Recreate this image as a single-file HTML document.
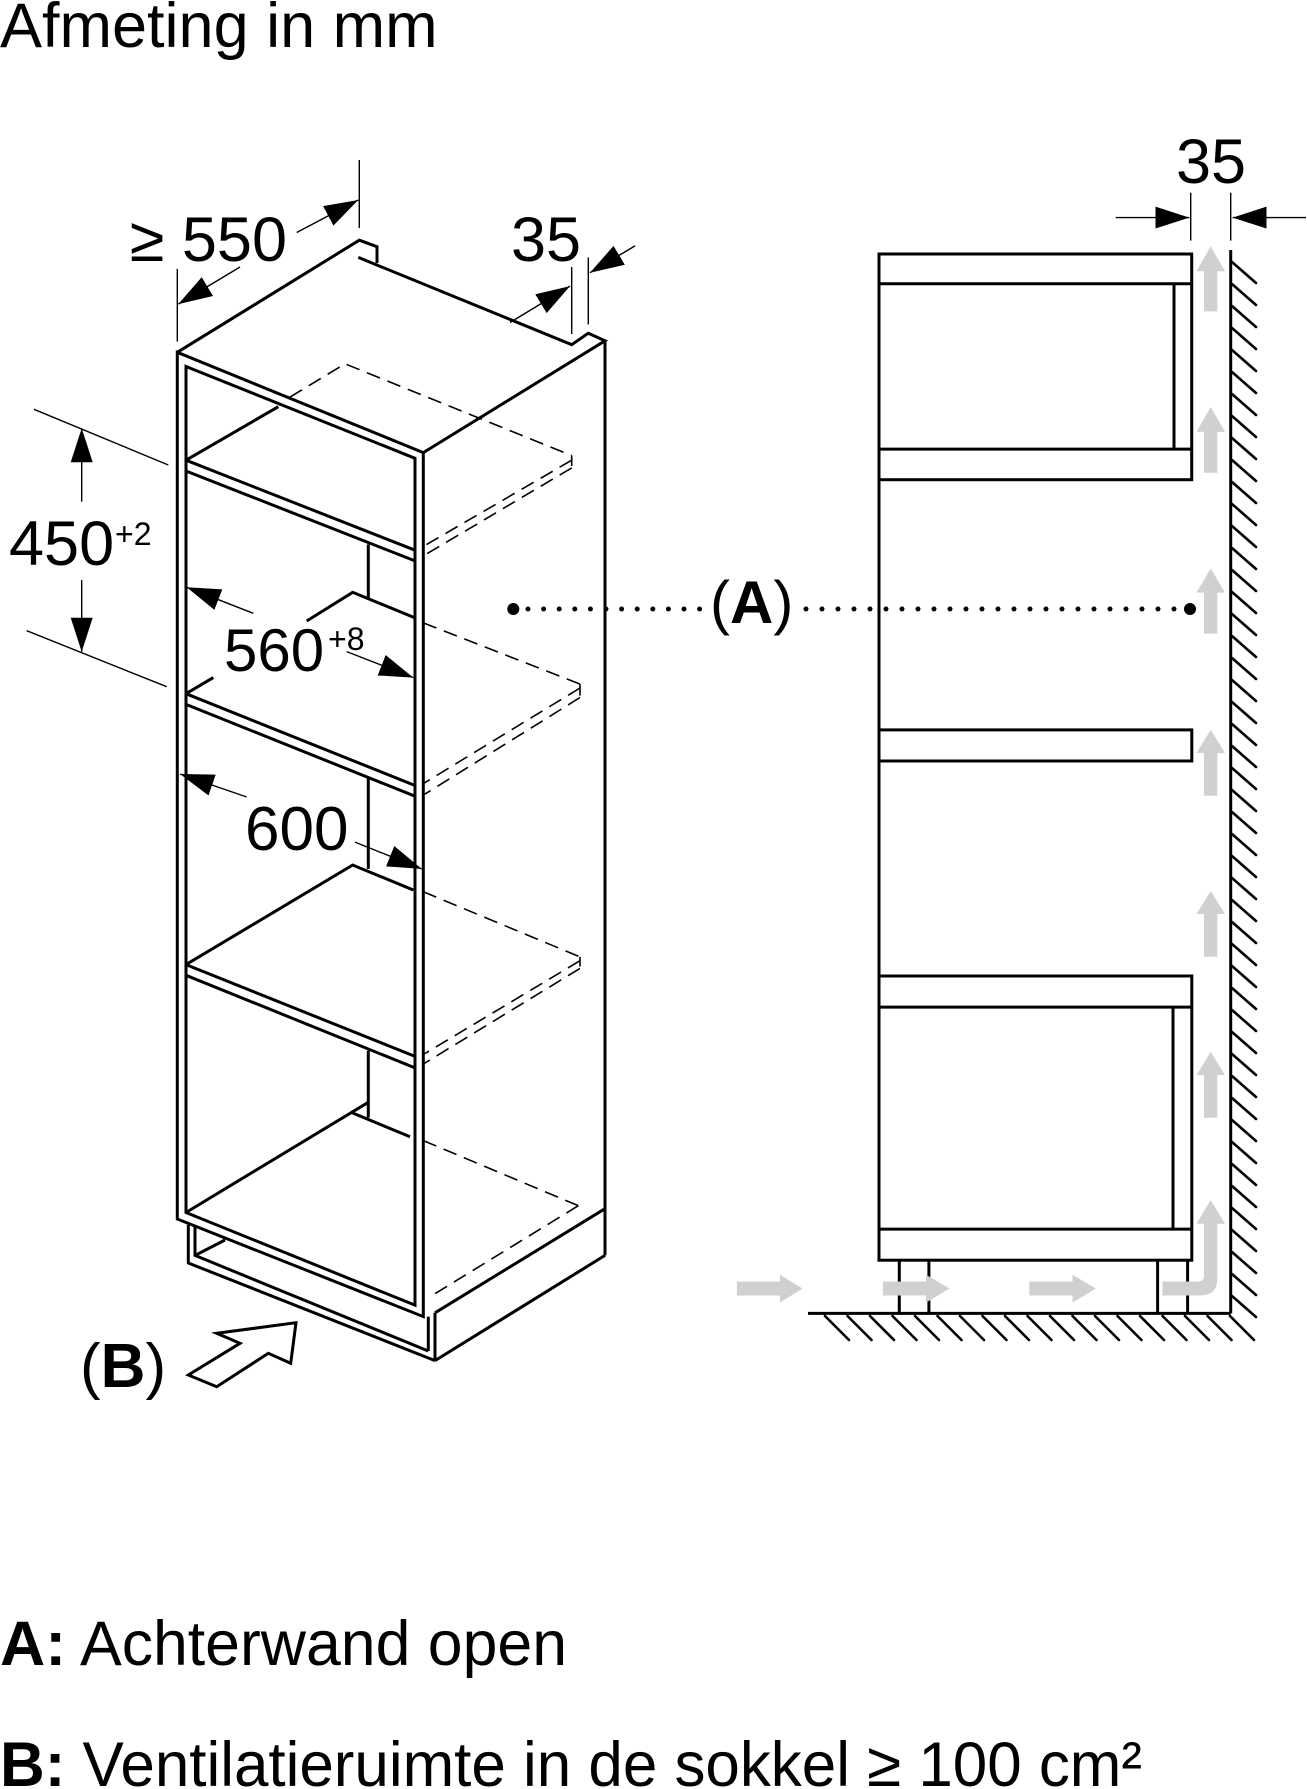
<!DOCTYPE html>
<html><head><meta charset="utf-8"><style>
html,body{margin:0;padding:0;background:#fff;}
svg{display:block;}
text{font-family:"Liberation Sans",Arial,sans-serif;fill:#000;}
</style></head><body>
<svg width="1307" height="1789" viewBox="0 0 1307 1789" xmlns="http://www.w3.org/2000/svg">
<defs>
<marker id="ah" markerUnits="userSpaceOnUse" markerWidth="40" markerHeight="30" refX="34" refY="11" orient="auto">
<path d="M0,0 L34,11 L0,22 Z" fill="#000"/>
</marker>
</defs>

<!-- Title -->
<text x="0" y="47" font-size="63">Afmeting in mm</text>

<!-- ========== LEFT CABINET ========== -->
<g fill="none" stroke="#000" stroke-width="3" stroke-linejoin="miter">
<!-- top face -->
<polyline points="177.3,352.3 359.3,240.2 377,246.7 377,263"/>
<polyline points="358.3,257.4 571.7,344.7 588.3,333.2 605,340.8 423.3,452.6"/>
<!-- right side -->
<line x1="605" y1="340.8" x2="605" y2="1255.4"/>
<line x1="605" y1="1208.7" x2="435" y2="1312.8"/>
<line x1="605" y1="1255.4" x2="435" y2="1360.6"/>
<line x1="435" y1="1312.8" x2="435" y2="1360.6"/>
<line x1="428.3" y1="1316.6" x2="428.3" y2="1351"/>
<!-- front frame outer / inner -->
<polygon points="177.3,352.3 423.3,452.6 423.3,1316.6 177.3,1219"/>
<polygon points="186,366.5 415,458.3 415,1305.2 186,1212.5"/>
<!-- plinth -->
<polyline points="188.3,1224.8 188.3,1263 435,1360.6"/>
<polyline points="195,1226.7 195,1255.4 428.3,1351"/>
<line x1="195" y1="1255.4" x2="225" y2="1240"/>
<!-- shelf 1 -->
<line x1="186" y1="460.2" x2="415" y2="550.2"/>
<line x1="186" y1="471" x2="415" y2="560.9"/>
<line x1="186" y1="460.2" x2="278.3" y2="406.7"/>
<!-- post 1 -->
<line x1="368.3" y1="544.4" x2="368.3" y2="598"/>
<!-- shelf 2 -->
<line x1="186" y1="693.7" x2="415" y2="785.5"/>
<line x1="186" y1="704.4" x2="415" y2="796.2"/>
<line x1="186" y1="693.7" x2="213.3" y2="677.6"/>
<polyline points="306.7,621 352.7,592.3 415,617.9"/>
<!-- post 2 -->
<line x1="368.3" y1="777.9" x2="368.3" y2="868.9"/>
<!-- shelf 3 -->
<line x1="186" y1="964.6" x2="415" y2="1056.4"/>
<line x1="186" y1="975.3" x2="415" y2="1067.9"/>
<polyline points="186,964.6 352.7,865 413.3,890"/>
<!-- post 3 -->
<line x1="368.3" y1="1050.7" x2="368.3" y2="1117.6"/>
<!-- bottom -->
<line x1="186" y1="1212.5" x2="368.3" y2="1102.3"/>
<line x1="352.7" y1="1113" x2="410" y2="1136.8"/>
</g>

<!-- dashed hidden lines -->
<g fill="none" stroke="#000" stroke-width="1.6" stroke-dasharray="14 8">
<polyline points="290,397.1 345,363.8 571.7,455.6"/>
<line x1="571.7" y1="460.2" x2="423.3" y2="546.4"/>
<line x1="571.7" y1="467.9" x2="423.3" y2="555.9"/>
<line x1="423.3" y1="622.9" x2="580" y2="684.1"/>
<line x1="580" y1="688" x2="423.3" y2="783.6"/>
<line x1="580" y1="697.5" x2="423.3" y2="795.1"/>
<line x1="423.3" y1="891.8" x2="580" y2="956.9"/>
<line x1="580" y1="960.7" x2="423.3" y2="1054.5"/>
<line x1="580" y1="968.4" x2="423.3" y2="1064"/>
<line x1="423.3" y1="1140.6" x2="578.3" y2="1205.7"/>
<line x1="578.3" y1="1205.7" x2="435" y2="1293.7"/>
</g>
<g fill="none" stroke="#000" stroke-width="1.6">
<line x1="571.7" y1="455.6" x2="571.7" y2="466"/>
<line x1="580" y1="684.1" x2="580" y2="695.6"/>
<line x1="580" y1="956.9" x2="580" y2="966.5"/>
</g>

<!-- dimension lines -->
<g fill="none" stroke="#000" stroke-width="1.4">
<!-- 550 -->
<line x1="177.3" y1="268.9" x2="177.3" y2="341.6"/>
<line x1="359.3" y1="160" x2="359.3" y2="228"/>
<line x1="240" y1="267" x2="178.3" y2="304.1" marker-end="url(#ah)"/>
<line x1="296.7" y1="232.5" x2="358.3" y2="200" marker-end="url(#ah)"/>
<!-- 35 left -->
<line x1="571.7" y1="267" x2="571.7" y2="334"/>
<line x1="588.3" y1="257.4" x2="588.3" y2="324.4"/>
<line x1="510" y1="322.5" x2="570" y2="286.1" marker-end="url(#ah)"/>
<line x1="635" y1="245.9" x2="590" y2="272.7" marker-end="url(#ah)"/>
<!-- 450 -->
<line x1="34" y1="409.3" x2="168.3" y2="465"/>
<line x1="26.7" y1="630.7" x2="166.7" y2="686.7"/>
<line x1="81.7" y1="501.7" x2="81.7" y2="428.3" marker-end="url(#ah)"/>
<line x1="81.7" y1="580" x2="81.7" y2="651.7" marker-end="url(#ah)"/>
<!-- 560 -->
<line x1="253.3" y1="613.3" x2="186.7" y2="587.3" marker-end="url(#ah)"/>
<line x1="346.7" y1="651.6" x2="413.3" y2="677.6" marker-end="url(#ah)"/>
<!-- 600 -->
<line x1="246.7" y1="797" x2="180" y2="774" marker-end="url(#ah)"/>
<line x1="355" y1="842.1" x2="421.7" y2="868.9" marker-end="url(#ah)"/>
<!-- 35 right -->
<line x1="1190.7" y1="192.7" x2="1190.7" y2="240.6"/>
<line x1="1230.7" y1="192.7" x2="1230.7" y2="240.6"/>
<line x1="1115.7" y1="217.6" x2="1189.3" y2="217.6" marker-end="url(#ah)"/>
<line x1="1306" y1="217.6" x2="1232.7" y2="217.6" marker-end="url(#ah)"/>
</g>

<!-- dimension texts -->
<text x="287" y="261" font-size="63" text-anchor="end">≥ 550</text>
<text x="511" y="261" font-size="63">35</text>
<text x="9" y="565" font-size="63">450</text>
<text x="115" y="545" font-size="32">+2</text>
<text x="224" y="671" font-size="60">560</text>
<text x="328" y="650" font-size="32">+8</text>
<text x="245" y="850" font-size="62">600</text>
<text x="1176" y="183" font-size="63">35</text>

<!-- B arrow -->
<polygon points="188.3,1375 240,1343.3 216.7,1333.3 296,1322.7 290.7,1363.3 268.3,1353.3 216.7,1386.7" fill="#fff" stroke="#000" stroke-width="3" stroke-linejoin="miter"/>
<text x="80" y="1387" font-size="62">(<tspan font-weight="bold">B</tspan>)</text>

<!-- (A) dotted line -->
<g fill="#000">
<circle cx="513.3" cy="609" r="6"/>
<circle cx="1190" cy="609" r="6"/>
</g>
<line x1="528" y1="609" x2="706" y2="609" stroke="#000" stroke-width="5" stroke-linecap="round" stroke-dasharray="0 15.6"/>
<line x1="806" y1="609" x2="1178" y2="609" stroke="#000" stroke-width="5" stroke-linecap="round" stroke-dasharray="0 16"/>
<text x="710" y="623" font-size="60">(<tspan font-weight="bold">A</tspan>)</text>

<!-- ========== RIGHT SIDE VIEW ========== -->
<g fill="none" stroke="#000" stroke-width="3">
<line x1="879" y1="254" x2="879" y2="1260.2"/>
<rect x="879" y="254" width="312.7" height="225.7"/>
<line x1="879" y1="283.8" x2="1191.7" y2="283.8"/>
<line x1="879" y1="449.1" x2="1191.7" y2="449.1"/>
<line x1="1174" y1="283.8" x2="1174" y2="449.1"/>
<rect x="879" y="729.9" width="312.8" height="31.1"/>
<rect x="879" y="976" width="312.8" height="284.2"/>
<line x1="879" y1="1007.1" x2="1191.8" y2="1007.1"/>
<line x1="879" y1="1229.1" x2="1191.8" y2="1229.1"/>
<line x1="1173" y1="1007.1" x2="1173" y2="1229.1"/>
<line x1="899.3" y1="1260.2" x2="899.3" y2="1313.4"/>
<line x1="928.9" y1="1260.2" x2="928.9" y2="1313.4"/>
<line x1="1157.6" y1="1260.2" x2="1157.6" y2="1313.4"/>
<line x1="1187.6" y1="1260.2" x2="1187.6" y2="1313.4"/>
<!-- wall & floor -->
<line x1="1230.7" y1="250" x2="1230.7" y2="1313.4"/>
<line x1="808" y1="1313.4" x2="1230.7" y2="1313.4"/>
</g>
<g stroke="#000" stroke-width="2.6" stroke-linecap="round">
<path d="M1232,262 l24,21 M1232,284 l24,21 M1232,306 l24,21 M1232,328 l24,21 M1232,350 l24,21 M1232,372 l24,21 M1232,394 l24,21 M1232,416 l24,21 M1232,438 l24,21 M1232,460 l24,21 M1232,482 l24,21 M1232,504 l24,21 M1232,526 l24,21 M1232,548 l24,21 M1232,570 l24,21 M1232,592 l24,21 M1232,614 l24,21 M1232,636 l24,21 M1232,658 l24,21 M1232,680 l24,21 M1232,702 l24,21 M1232,724 l24,21 M1232,746 l24,21 M1232,768 l24,21 M1232,790 l24,21 M1232,812 l24,21 M1232,834 l24,21 M1232,856 l24,21 M1232,878 l24,21 M1232,900 l24,21 M1232,922 l24,21 M1232,944 l24,21 M1232,966 l24,21 M1232,988 l24,21 M1232,1010 l24,21 M1232,1032 l24,21 M1232,1054 l24,21 M1232,1076 l24,21 M1232,1098 l24,21 M1232,1120 l24,21 M1232,1142 l24,21 M1232,1164 l24,21 M1232,1186 l24,21 M1232,1208 l24,21 M1232,1230 l24,21 M1232,1252 l24,21 M1232,1274 l24,21 M1232,1296 l24,21"/>
<path d="M825,1316 l24,24 M847.5,1316 l24,24 M870,1316 l24,24 M892.5,1316 l24,24 M915,1316 l24,24 M937.5,1316 l24,24 M960,1316 l24,24 M982.5,1316 l24,24 M1005,1316 l24,24 M1027.5,1316 l24,24 M1050,1316 l24,24 M1072.5,1316 l24,24 M1095,1316 l24,24 M1117.5,1316 l24,24 M1140,1316 l24,24 M1162.5,1316 l24,24 M1185,1316 l24,24 M1207.5,1316 l24,24 M1230,1316 l24,24"/>
</g>

<!-- gray airflow arrows -->
<g fill="#d0d0d0">
<path d="M1210.7,246.3 L1225,271.2 L1217.3,271.2 L1217.3,311.4 L1204,311.4 L1204,271.2 L1196.5,271.2 Z"/>
<path d="M1210.7,407 L1225,431.9 L1217.3,431.9 L1217.3,472.8 L1204,472.8 L1204,431.9 L1196.5,431.9 Z"/>
<path d="M1210.7,568.5 L1225,592.6 L1217.3,592.6 L1217.3,633.6 L1204,633.6 L1204,592.6 L1196.5,592.6 Z"/>
<path d="M1210.7,729.9 L1225,753 L1217.3,753 L1217.3,795.8 L1204,795.8 L1204,753 L1196.5,753 Z"/>
<path d="M1210.7,890.9 L1225,914 L1217.3,914 L1217.3,956.8 L1204,956.8 L1204,914 L1196.5,914 Z"/>
<path d="M1210.7,1051.9 L1225,1075 L1217.3,1075 L1217.3,1117.8 L1204,1117.8 L1204,1075 L1196.5,1075 Z"/>
<path d="M1210.7,1200 L1225,1223.7 L1217.3,1223.7 L1217.3,1279 Q1217.3,1295.5 1200,1295.5 L1162.5,1295.5 L1162.5,1281.5 L1198,1281.5 Q1204,1281.5 1204,1275 L1204,1223.7 L1196.5,1223.7 Z"/>
<path d="M736.9,1281.5 L780,1281.5 L780,1274.8 L802.5,1288.5 L780,1302.6 L780,1295.5 L736.9,1295.5 Z"/>
<path d="M883,1281.5 L926,1281.5 L926,1274.8 L949.5,1288.5 L926,1302.6 L926,1295.5 L883,1295.5 Z"/>
<path d="M1029.4,1281.5 L1072.5,1281.5 L1072.5,1274.8 L1095.8,1288.5 L1072.5,1302.6 L1072.5,1295.5 L1029.4,1295.5 Z"/>
</g>

<!-- legend -->
<text x="0" y="1665" font-size="63" textLength="567" lengthAdjust="spacingAndGlyphs"><tspan font-weight="bold">A:</tspan> Achterwand open</text>
<text x="0" y="1786" font-size="63" textLength="1142" lengthAdjust="spacingAndGlyphs"><tspan font-weight="bold">B:</tspan> Ventilatieruimte in de sokkel ≥ 100 cm²</text>
</svg>
</body></html>
